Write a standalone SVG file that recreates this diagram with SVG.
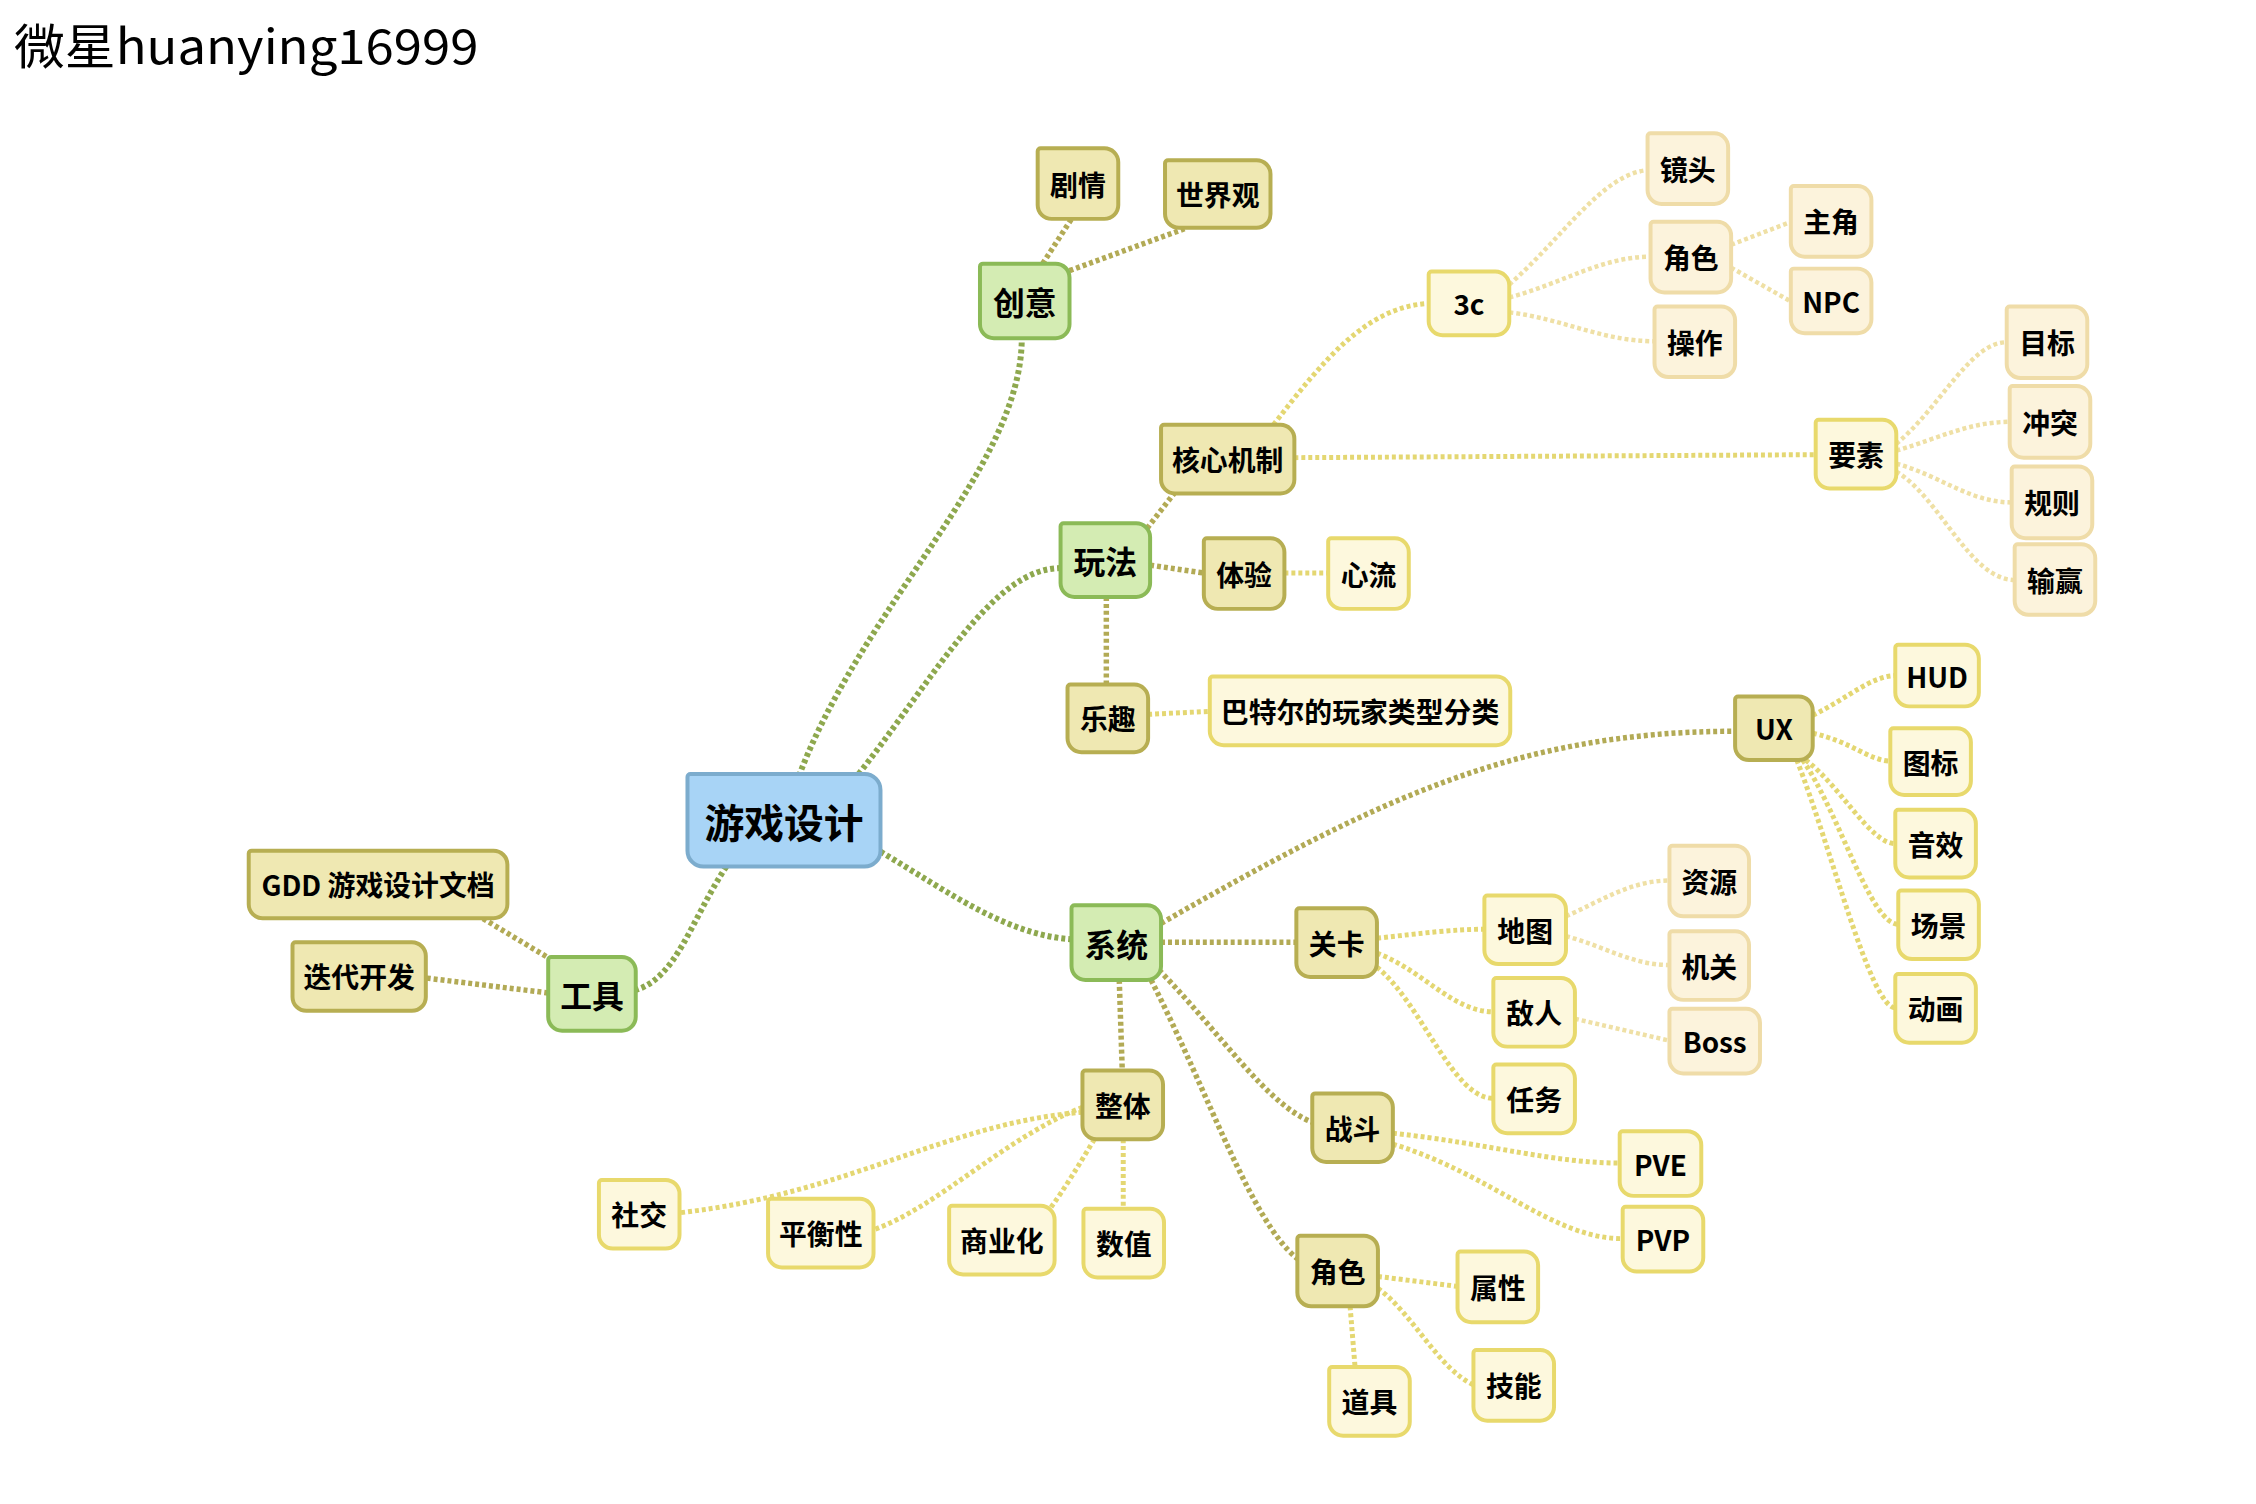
<svg xmlns="http://www.w3.org/2000/svg" width="2256" height="1504" viewBox="0 0 2256 1504">
<style>
.n path{stroke-width:4}
.root path{fill:#a8d4f6;stroke:#7caccd}
.l1 path{fill:#d4ecb3;stroke:#8bba57}
.l2 path{fill:#efe8b2;stroke:#b7ae52}
.l3 path{fill:#fdf8dd;stroke:#e8d96c}
.l4 path{fill:#fcf3dc;stroke:#efdca8}
.n text{font-family:"Noto Sans CJK SC","Liberation Sans",sans-serif;font-weight:700;text-anchor:middle;dominant-baseline:central;fill:#000;font-size:28px}
.root text{font-size:40px}
.l1 text{font-size:32px}
#connectors path{fill:none;stroke-dasharray:4 3}
.c1{stroke:#8ea84e;stroke-width:6}
.c2{stroke:#b2aa55;stroke-width:5.5}
.c3{stroke:#e4d772;stroke-width:5}
.c4{stroke:#efe0a5;stroke-width:4.5}
.title{font-family:"Noto Sans CJK SC","Liberation Sans",sans-serif;font-weight:400;font-size:48px;fill:#000}
</style>
<rect width="2256" height="1504" fill="#fff"/>
<g transform="scale(0.9949)">
<text class="title" x="14" y="64" textLength="467" lengthAdjust="spacingAndGlyphs">微星huanying16999</text>
<g id="connectors">
<path class="c1" d="M803,780 C868,607 1027,470 1027,340"/>
<path class="c1" d="M863,778 C940,680 998,571 1066,571"/>
<path class="c1" d="M730,871 C694,926 680,983 639,995"/>
<path class="c1" d="M885,856 C954,897 1012,940 1077,944"/>
<path class="c2" d="M1048,265 L1077,220"/>
<path class="c2" d="M1075,272 L1193,229"/>
<path class="c2" d="M1153,531 L1180,496"/>
<path class="c2" d="M1156,568 L1210,576"/>
<path class="c2" d="M1112,600 L1112,688"/>
<path class="c2" d="M555,965 L485,923"/>
<path class="c2" d="M551,998 L428,983"/>
<path class="c2" d="M1167,928 C1374,810 1518,735 1744,735"/>
<path class="c2" d="M1167,947 L1303,947"/>
<path class="c2" d="M1125,985 L1128,1076"/>
<path class="c2" d="M1165,975 C1229,1041 1273,1110 1319,1128"/>
<path class="c2" d="M1157,985 C1215,1099 1258,1229 1304,1265"/>
<path class="c3" d="M1280,427 C1330,362 1374,308 1436,305"/>
<path class="c3" d="M1301,460 L1825,457"/>
<path class="c3" d="M1291,576 L1335,576"/>
<path class="c3" d="M1154,718 L1216,715"/>
<path class="c3" d="M1822,719 C1860,700 1880,680 1905,679"/>
<path class="c3" d="M1822,737 C1860,745 1880,765 1900,765"/>
<path class="c3" d="M1815,764 C1850,790 1880,848 1905,848"/>
<path class="c3" d="M1812,764 C1850,820 1880,929 1908,929"/>
<path class="c3" d="M1806,764 C1840,850 1880,1013 1905,1013"/>
<path class="c3" d="M1384,943 C1430,938 1460,934 1492,934"/>
<path class="c3" d="M1384,958 C1430,975 1460,1017 1501,1017"/>
<path class="c3" d="M1384,972 C1430,1010 1460,1104 1501,1104"/>
<path class="c3" d="M1400,1139 C1500,1150 1560,1169 1628,1169"/>
<path class="c3" d="M1400,1150 C1500,1180 1560,1245 1631,1245"/>
<path class="c3" d="M1385,1283 L1465,1293"/>
<path class="c3" d="M1385,1295 C1420,1320 1445,1375 1481,1392"/>
<path class="c3" d="M1357,1313 L1362,1374"/>
<path class="c3" d="M1088,1118 C954,1128 853,1200 683,1219"/>
<path class="c3" d="M1088,1113 C1012,1142 940,1215 878,1236"/>
<path class="c3" d="M1100,1145 C1085,1170 1070,1195 1056,1214"/>
<path class="c3" d="M1129,1145 L1129,1215"/>
<path class="c4" d="M1517,286 C1570,240 1610,175 1656,171"/>
<path class="c4" d="M1517,299 C1570,285 1610,258 1659,258"/>
<path class="c4" d="M1517,314 C1570,320 1610,343 1663,343"/>
<path class="c4" d="M1740,246 L1800,223"/>
<path class="c4" d="M1740,269 L1800,303"/>
<path class="c4" d="M1906,446 C1950,410 1980,344 2017,344"/>
<path class="c4" d="M1906,453 C1950,440 1980,424 2020,424"/>
<path class="c4" d="M1906,466 C1950,478 1980,505 2022,505"/>
<path class="c4" d="M1906,474 C1950,500 1980,583 2025,583"/>
<path class="c4" d="M1574,921 C1610,905 1640,885 1678,885"/>
<path class="c4" d="M1574,941 C1610,950 1640,970 1678,970"/>
<path class="c4" d="M1583,1024 L1678,1046"/>
</g>
<g id="n-root" class="n root" transform="translate(691,778)"><path d="M3,0H178A16,16 0 0 1 194,16V77A16,16 0 0 1 178,93H16A16,16 0 0 1 0,77V3A3,3 0 0 1 3,0Z"/><text x="97" y="46.5">游戏设计</text></g>
<g id="n-chuangyi" class="n l1" transform="translate(985,265)"><path d="M3,0H76A14,14 0 0 1 90,14V61A14,14 0 0 1 76,75H14A14,14 0 0 1 0,61V3A3,3 0 0 1 3,0Z"/><text x="45" y="37.5">创意</text></g>
<g id="n-juqing" class="n l2" transform="translate(1043,149)"><path d="M3,0H67A14,14 0 0 1 81,14V57A14,14 0 0 1 67,71H14A14,14 0 0 1 0,57V3A3,3 0 0 1 3,0Z"/><text x="40.5" y="35.5">剧情</text></g>
<g id="n-shijieguan" class="n l2" transform="translate(1171,161)"><path d="M3,0H92A14,14 0 0 1 106,14V54A14,14 0 0 1 92,68H14A14,14 0 0 1 0,54V3A3,3 0 0 1 3,0Z"/><text x="53" y="34">世界观</text></g>
<g id="n-wanfa" class="n l1" transform="translate(1066,526)"><path d="M3,0H76A14,14 0 0 1 90,14V60A14,14 0 0 1 76,74H14A14,14 0 0 1 0,60V3A3,3 0 0 1 3,0Z"/><text x="45" y="37">玩法</text></g>
<g id="n-hexin" class="n l2" transform="translate(1167,427)"><path d="M3,0H120A14,14 0 0 1 134,14V55A14,14 0 0 1 120,69H14A14,14 0 0 1 0,55V3A3,3 0 0 1 3,0Z"/><text x="67" y="34.5">核心机制</text></g>
<g id="n-3c" class="n l3" transform="translate(1436,273)"><path d="M3,0H67A14,14 0 0 1 81,14V50A14,14 0 0 1 67,64H14A14,14 0 0 1 0,50V3A3,3 0 0 1 3,0Z"/><text x="40.5" y="32">3c</text></g>
<g id="n-jingtou" class="n l4" transform="translate(1656,134)"><path d="M3,0H67A14,14 0 0 1 81,14V57A14,14 0 0 1 67,71H14A14,14 0 0 1 0,57V3A3,3 0 0 1 3,0Z"/><text x="40.5" y="35.5">镜头</text></g>
<g id="n-juese1" class="n l4" transform="translate(1659,223)"><path d="M3,0H67A14,14 0 0 1 81,14V57A14,14 0 0 1 67,71H14A14,14 0 0 1 0,57V3A3,3 0 0 1 3,0Z"/><text x="40.5" y="35.5">角色</text></g>
<g id="n-caozuo" class="n l4" transform="translate(1663,308)"><path d="M3,0H67A14,14 0 0 1 81,14V57A14,14 0 0 1 67,71H14A14,14 0 0 1 0,57V3A3,3 0 0 1 3,0Z"/><text x="40.5" y="35.5">操作</text></g>
<g id="n-zhujue" class="n l4" transform="translate(1800,187)"><path d="M3,0H67A14,14 0 0 1 81,14V57A14,14 0 0 1 67,71H14A14,14 0 0 1 0,57V3A3,3 0 0 1 3,0Z"/><text x="40.5" y="35.5">主角</text></g>
<g id="n-npc" class="n l4" transform="translate(1800,270)"><path d="M3,0H67A14,14 0 0 1 81,14V51A14,14 0 0 1 67,65H14A14,14 0 0 1 0,51V3A3,3 0 0 1 3,0Z"/><text x="40.5" y="32.5">NPC</text></g>
<g id="n-yaosu" class="n l3" transform="translate(1825,422)"><path d="M3,0H67A14,14 0 0 1 81,14V55A14,14 0 0 1 67,69H14A14,14 0 0 1 0,55V3A3,3 0 0 1 3,0Z"/><text x="40.5" y="34.5">要素</text></g>
<g id="n-mubiao" class="n l4" transform="translate(2017,308)"><path d="M3,0H67A14,14 0 0 1 81,14V58A14,14 0 0 1 67,72H14A14,14 0 0 1 0,58V3A3,3 0 0 1 3,0Z"/><text x="40.5" y="36">目标</text></g>
<g id="n-chongtu" class="n l4" transform="translate(2020,388)"><path d="M3,0H67A14,14 0 0 1 81,14V58A14,14 0 0 1 67,72H14A14,14 0 0 1 0,58V3A3,3 0 0 1 3,0Z"/><text x="40.5" y="36">冲突</text></g>
<g id="n-guize" class="n l4" transform="translate(2022,469)"><path d="M3,0H67A14,14 0 0 1 81,14V58A14,14 0 0 1 67,72H14A14,14 0 0 1 0,58V3A3,3 0 0 1 3,0Z"/><text x="40.5" y="36">规则</text></g>
<g id="n-shuying" class="n l4" transform="translate(2025,547)"><path d="M3,0H67A14,14 0 0 1 81,14V57A14,14 0 0 1 67,71H14A14,14 0 0 1 0,57V3A3,3 0 0 1 3,0Z"/><text x="40.5" y="35.5">输赢</text></g>
<g id="n-tiyan" class="n l2" transform="translate(1210,541)"><path d="M3,0H67A14,14 0 0 1 81,14V57A14,14 0 0 1 67,71H14A14,14 0 0 1 0,57V3A3,3 0 0 1 3,0Z"/><text x="40.5" y="35.5">体验</text></g>
<g id="n-xinliu" class="n l3" transform="translate(1335,541)"><path d="M3,0H67A14,14 0 0 1 81,14V57A14,14 0 0 1 67,71H14A14,14 0 0 1 0,57V3A3,3 0 0 1 3,0Z"/><text x="40.5" y="35.5">心流</text></g>
<g id="n-lequ" class="n l2" transform="translate(1073,688)"><path d="M3,0H67A14,14 0 0 1 81,14V54A14,14 0 0 1 67,68H14A14,14 0 0 1 0,54V3A3,3 0 0 1 3,0Z"/><text x="40.5" y="34">乐趣</text></g>
<g id="n-bartle" class="n l3" transform="translate(1216,680)"><path d="M3,0H288A14,14 0 0 1 302,14V55A14,14 0 0 1 288,69H14A14,14 0 0 1 0,55V3A3,3 0 0 1 3,0Z"/><text x="151" y="34.5">巴特尔的玩家类型分类</text></g>
<g id="n-gongju" class="n l1" transform="translate(551,962)"><path d="M3,0H74A14,14 0 0 1 88,14V60A14,14 0 0 1 74,74H14A14,14 0 0 1 0,60V3A3,3 0 0 1 3,0Z"/><text x="44" y="37">工具</text></g>
<g id="n-gdd" class="n l2" transform="translate(250,855)"><path d="M3,0H246A14,14 0 0 1 260,14V54A14,14 0 0 1 246,68H14A14,14 0 0 1 0,54V3A3,3 0 0 1 3,0Z"/><text x="130" y="34">GDD 游戏设计文档</text></g>
<g id="n-diedai" class="n l2" transform="translate(294,947)"><path d="M3,0H120A14,14 0 0 1 134,14V55A14,14 0 0 1 120,69H14A14,14 0 0 1 0,55V3A3,3 0 0 1 3,0Z"/><text x="67" y="34.5">迭代开发</text></g>
<g id="n-xitong" class="n l1" transform="translate(1077,910)"><path d="M3,0H76A14,14 0 0 1 90,14V61A14,14 0 0 1 76,75H14A14,14 0 0 1 0,61V3A3,3 0 0 1 3,0Z"/><text x="45" y="37.5">系统</text></g>
<g id="n-ux" class="n l2" transform="translate(1744,700)"><path d="M3,0H64A14,14 0 0 1 78,14V50A14,14 0 0 1 64,64H14A14,14 0 0 1 0,50V3A3,3 0 0 1 3,0Z"/><text x="39" y="32">UX</text></g>
<g id="n-hud" class="n l3" transform="translate(1905,648)"><path d="M3,0H70A14,14 0 0 1 84,14V48A14,14 0 0 1 70,62H14A14,14 0 0 1 0,48V3A3,3 0 0 1 3,0Z"/><text x="42" y="31">HUD</text></g>
<g id="n-tubiao" class="n l3" transform="translate(1900,732)"><path d="M3,0H67A14,14 0 0 1 81,14V53A14,14 0 0 1 67,67H14A14,14 0 0 1 0,53V3A3,3 0 0 1 3,0Z"/><text x="40.5" y="33.5">图标</text></g>
<g id="n-yinxiao" class="n l3" transform="translate(1905,814)"><path d="M3,0H67A14,14 0 0 1 81,14V54A14,14 0 0 1 67,68H14A14,14 0 0 1 0,54V3A3,3 0 0 1 3,0Z"/><text x="40.5" y="34">音效</text></g>
<g id="n-changjing" class="n l3" transform="translate(1908,895)"><path d="M3,0H67A14,14 0 0 1 81,14V55A14,14 0 0 1 67,69H14A14,14 0 0 1 0,55V3A3,3 0 0 1 3,0Z"/><text x="40.5" y="34.5">场景</text></g>
<g id="n-donghua" class="n l3" transform="translate(1905,979)"><path d="M3,0H67A14,14 0 0 1 81,14V55A14,14 0 0 1 67,69H14A14,14 0 0 1 0,55V3A3,3 0 0 1 3,0Z"/><text x="40.5" y="34.5">动画</text></g>
<g id="n-guanka" class="n l2" transform="translate(1303,913)"><path d="M3,0H67A14,14 0 0 1 81,14V55A14,14 0 0 1 67,69H14A14,14 0 0 1 0,55V3A3,3 0 0 1 3,0Z"/><text x="40.5" y="34.5">关卡</text></g>
<g id="n-ditu" class="n l3" transform="translate(1492,900)"><path d="M3,0H68A14,14 0 0 1 82,14V55A14,14 0 0 1 68,69H14A14,14 0 0 1 0,55V3A3,3 0 0 1 3,0Z"/><text x="41" y="34.5">地图</text></g>
<g id="n-ziyuan" class="n l4" transform="translate(1678,850)"><path d="M3,0H66A14,14 0 0 1 80,14V57A14,14 0 0 1 66,71H14A14,14 0 0 1 0,57V3A3,3 0 0 1 3,0Z"/><text x="40" y="35.5">资源</text></g>
<g id="n-jiguan" class="n l4" transform="translate(1678,936)"><path d="M3,0H66A14,14 0 0 1 80,14V55A14,14 0 0 1 66,69H14A14,14 0 0 1 0,55V3A3,3 0 0 1 3,0Z"/><text x="40" y="34.5">机关</text></g>
<g id="n-boss" class="n l4" transform="translate(1678,1014)"><path d="M3,0H77A14,14 0 0 1 91,14V51A14,14 0 0 1 77,65H14A14,14 0 0 1 0,51V3A3,3 0 0 1 3,0Z"/><text x="45.5" y="32.5">Boss</text></g>
<g id="n-diren" class="n l3" transform="translate(1501,983)"><path d="M3,0H68A14,14 0 0 1 82,14V55A14,14 0 0 1 68,69H14A14,14 0 0 1 0,55V3A3,3 0 0 1 3,0Z"/><text x="41" y="34.5">敌人</text></g>
<g id="n-renwu" class="n l3" transform="translate(1501,1070)"><path d="M3,0H68A14,14 0 0 1 82,14V55A14,14 0 0 1 68,69H14A14,14 0 0 1 0,55V3A3,3 0 0 1 3,0Z"/><text x="41" y="34.5">任务</text></g>
<g id="n-zhandou" class="n l2" transform="translate(1319,1099)"><path d="M3,0H67A14,14 0 0 1 81,14V55A14,14 0 0 1 67,69H14A14,14 0 0 1 0,55V3A3,3 0 0 1 3,0Z"/><text x="40.5" y="34.5">战斗</text></g>
<g id="n-pve" class="n l3" transform="translate(1628,1137)"><path d="M3,0H68A14,14 0 0 1 82,14V51A14,14 0 0 1 68,65H14A14,14 0 0 1 0,51V3A3,3 0 0 1 3,0Z"/><text x="41" y="32.5">PVE</text></g>
<g id="n-pvp" class="n l3" transform="translate(1631,1213)"><path d="M3,0H67A14,14 0 0 1 81,14V51A14,14 0 0 1 67,65H14A14,14 0 0 1 0,51V3A3,3 0 0 1 3,0Z"/><text x="40.5" y="32.5">PVP</text></g>
<g id="n-juese2" class="n l2" transform="translate(1304,1242)"><path d="M3,0H67A14,14 0 0 1 81,14V57A14,14 0 0 1 67,71H14A14,14 0 0 1 0,57V3A3,3 0 0 1 3,0Z"/><text x="40.5" y="35.5">角色</text></g>
<g id="n-shuxing" class="n l3" transform="translate(1465,1258)"><path d="M3,0H67A14,14 0 0 1 81,14V57A14,14 0 0 1 67,71H14A14,14 0 0 1 0,57V3A3,3 0 0 1 3,0Z"/><text x="40.5" y="35.5">属性</text></g>
<g id="n-jineng" class="n l3" transform="translate(1481,1357)"><path d="M3,0H67A14,14 0 0 1 81,14V57A14,14 0 0 1 67,71H14A14,14 0 0 1 0,57V3A3,3 0 0 1 3,0Z"/><text x="40.5" y="35.5">技能</text></g>
<g id="n-daoju" class="n l3" transform="translate(1336,1374)"><path d="M3,0H67A14,14 0 0 1 81,14V55A14,14 0 0 1 67,69H14A14,14 0 0 1 0,55V3A3,3 0 0 1 3,0Z"/><text x="40.5" y="34.5">道具</text></g>
<g id="n-zhengti" class="n l2" transform="translate(1088,1076)"><path d="M3,0H67A14,14 0 0 1 81,14V55A14,14 0 0 1 67,69H14A14,14 0 0 1 0,55V3A3,3 0 0 1 3,0Z"/><text x="40.5" y="34.5">整体</text></g>
<g id="n-shejiao" class="n l3" transform="translate(602,1186)"><path d="M3,0H67A14,14 0 0 1 81,14V55A14,14 0 0 1 67,69H14A14,14 0 0 1 0,55V3A3,3 0 0 1 3,0Z"/><text x="40.5" y="34.5">社交</text></g>
<g id="n-pinghengxing" class="n l3" transform="translate(772,1205)"><path d="M3,0H92A14,14 0 0 1 106,14V55A14,14 0 0 1 92,69H14A14,14 0 0 1 0,55V3A3,3 0 0 1 3,0Z"/><text x="53" y="34.5">平衡性</text></g>
<g id="n-shangyehua" class="n l3" transform="translate(954,1212)"><path d="M3,0H92A14,14 0 0 1 106,14V55A14,14 0 0 1 92,69H14A14,14 0 0 1 0,55V3A3,3 0 0 1 3,0Z"/><text x="53" y="34.5">商业化</text></g>
<g id="n-shuzhi" class="n l3" transform="translate(1089,1215)"><path d="M3,0H67A14,14 0 0 1 81,14V55A14,14 0 0 1 67,69H14A14,14 0 0 1 0,55V3A3,3 0 0 1 3,0Z"/><text x="40.5" y="34.5">数值</text></g>
</g>
</svg>
